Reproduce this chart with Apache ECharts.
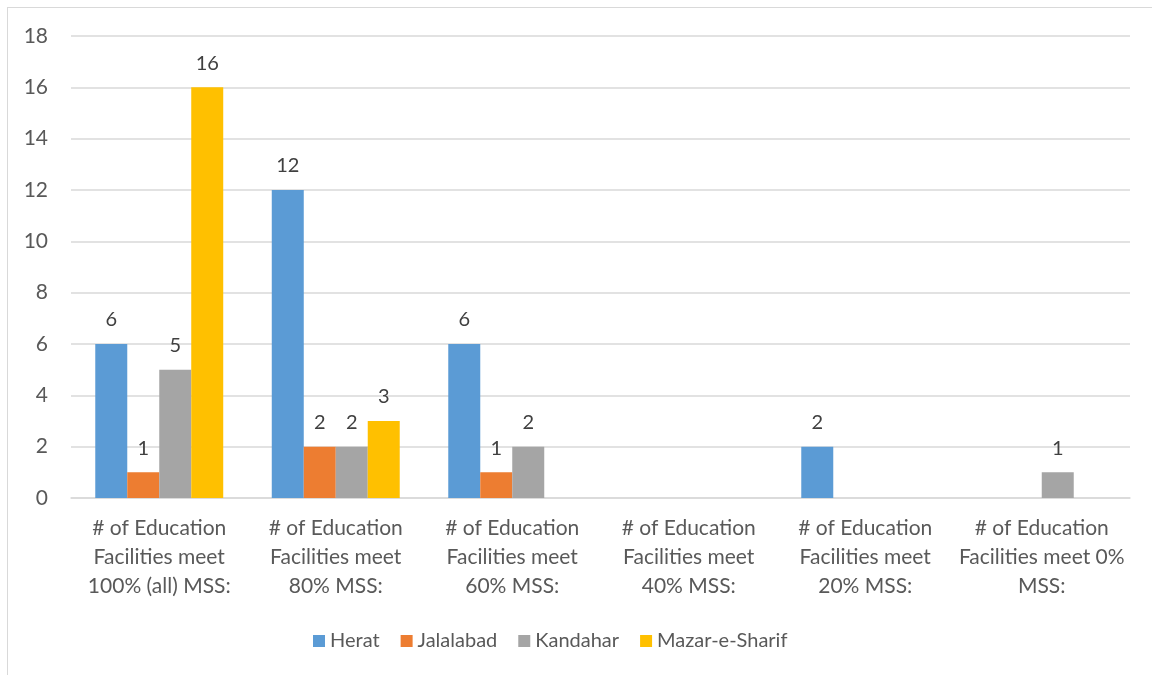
<!DOCTYPE html>
<html>
<head>
<meta charset="utf-8">
<script src="https://cdn.jsdelivr.net/npm/echarts@6/dist/echarts.min.js"></script>
<style>
  html, body { margin: 0; padding: 0; background: #fff; }
  #frame { position: absolute; left: 7px; top: 7px; width: 1160px; height: 680px; border: 1.5px solid #d9d9d9; box-sizing: border-box; }
  #chart { position: absolute; left: 0; top: 0; width: 1152px; height: 675px; }
</style>
</head>
<body>
<div id="frame"></div>
<div id="chart"></div>
<script>
// Category labels (wrapped as in the chart)
const categories = [
  '# of Education\nFacilities meet\n100% (all) MSS:',
  '# of Education\nFacilities meet\n80% MSS:',
  '# of Education\nFacilities meet\n60% MSS:',
  '# of Education\nFacilities meet\n40% MSS:',
  '# of Education\nFacilities meet\n20% MSS:',
  '# of Education\nFacilities meet 0%\nMSS:'
];

// Counts per city (null = no facilities in that bucket)
const herat        = [6, 12, 6, null, 2, null];
const jalalabad    = [1, 2, 1, null, null, null];
const kandahar     = [5, 2, 2, null, null, 1];
const mazarESharif = [16, 3, null, null, null, null];

const seriesNames = ['Herat', 'Jalalabad', 'Kandahar', 'Mazar-e-Sharif'];
const seriesColors = ['#5B9BD5', '#ED7D31', '#A5A5A5', '#FFC000'];
const seriesData = [herat, jalalabad, kandahar, mazarESharif];

const yTicks = { min: 0, max: 18, interval: 2 };

const font = 'Lato, Open Sans, sans-serif';

const chart = echarts.init(document.getElementById('chart'), null, { renderer: 'canvas' });

chart.setOption({
  animation: false,
  textStyle: { fontFamily: font },
  grid: { left: 71, right: 22, top: 36, bottom: 177, containLabel: false },
  legend: {
    data: seriesNames,
    top: 626,
    left: 308,
    itemWidth: 12,
    itemHeight: 12,
    itemGap: 21,
    icon: 'rect',
    textStyle: { color: '#595959', fontSize: 20, fontFamily: font }
  },
  xAxis: {
    type: 'category',
    data: categories,
    axisLine: { lineStyle: { color: '#d9d9d9', width: 1.5 } },
    axisTick: { show: false },
    axisLabel: {
      color: '#595959',
      fontSize: 21,
      lineHeight: 29,
      margin: 16,
      interval: 0,
      fontFamily: font
    }
  },
  yAxis: {
    type: 'value',
    min: yTicks.min,
    max: yTicks.max,
    interval: yTicks.interval,
    axisLine: { show: false },
    axisTick: { show: false },
    splitLine: { lineStyle: { color: '#d9d9d9', width: 1.5 } },
    axisLabel: { color: '#595959', fontSize: 21, margin: 23, fontFamily: font }
  },
  series: seriesData.map((d, i) => ({
    name: seriesNames[i],
    type: 'bar',
    data: d,
    barGap: '0%',
    barCategoryGap: '27.5%',
    itemStyle: { color: seriesColors[i] },
    label: {
      show: true,
      position: 'top',
      distance: 14,
      color: '#404040',
      fontSize: 20,
      fontFamily: font
    }
  }))
});
</script>
</body>
</html>
